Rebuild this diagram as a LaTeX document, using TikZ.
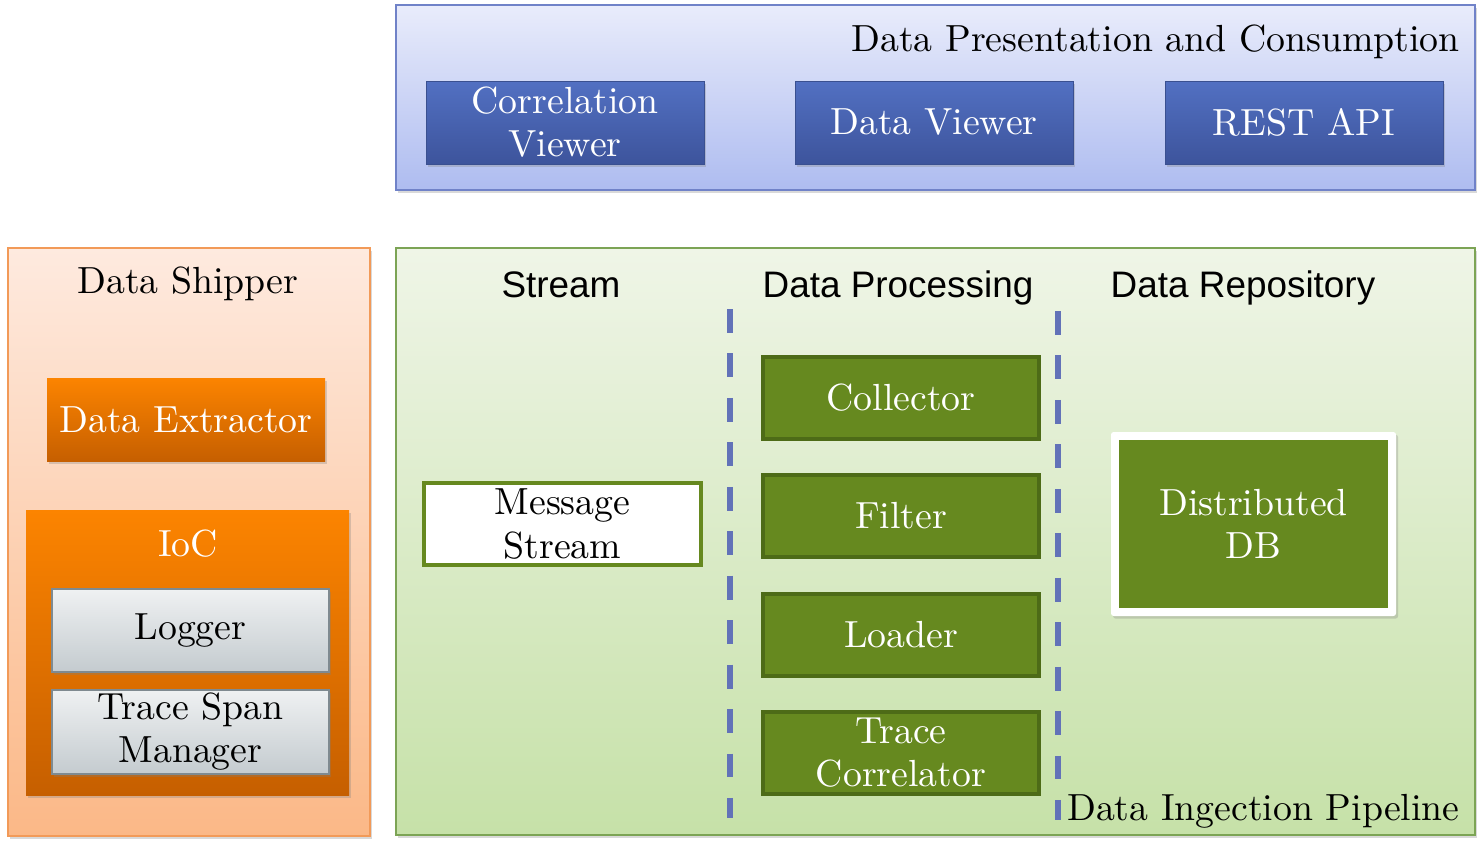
\documentclass[tikz,border=0pt]{standalone}
\usepackage{fontspec}
\newfontfamily\hdrfont{Liberation Sans}
\newfontfamily\srf{lmroman10-regular.otf}
\usetikzlibrary{shadows}
\definecolor{bpTop}{HTML}{E9ECFB}
\definecolor{bpBot}{HTML}{AEBCF0}
\definecolor{bpLine}{HTML}{7082C8}
\definecolor{bbTop}{HTML}{5270C2}
\definecolor{bbBot}{HTML}{3D549C}
\definecolor{bbLine}{HTML}{3A5090}
\definecolor{opTop}{HTML}{FEEADF}
\definecolor{opBot}{HTML}{FBB887}
\definecolor{opLine}{HTML}{F29A58}
\definecolor{obTop}{HTML}{FC8400}
\definecolor{obBot}{HTML}{C65F00}
\definecolor{gbTop}{HTML}{EFF1F2}
\definecolor{gbBot}{HTML}{C4CBCF}
\definecolor{gbLine}{HTML}{7F8A90}
\definecolor{gpTop}{HTML}{EFF5E7}
\definecolor{gpBot}{HTML}{C6E1A8}
\definecolor{gpLine}{HTML}{7CA455}
\definecolor{grFill}{HTML}{66891F}
\definecolor{grLine}{HTML}{4D6B17}
\definecolor{sepBlue}{HTML}{6272B8}
% box: name, style, x1, y1, x2, y2, text (pixel coordinates)
\newcommand\bx[7]{\node[#2, minimum width={(#5-#3)*0.02cm}, minimum height={(#6-#4)*0.02cm}] (#1) at ({(#3+#5)/2},{(#4+#6)/2}) {#7};}
\begin{document}
\begin{tikzpicture}[x=0.02cm,y=-0.02cm,
  serif/.style={font=\srf\fontsize{21.5}{24.5}\selectfont, align=center},
  hdr/.style={font=\hdrfont\fontsize{21}{25}\selectfont},
  base/.style={inner sep=0pt, outer sep=0pt, serif},
  shad/.style={drop shadow={opacity=0.3, shadow xshift=1.2pt, shadow yshift=-1.5pt}},
  bluepanel/.style={base, top color=bpTop, bottom color=bpBot, draw=bpLine, line width=1pt, shad},
  bluebox/.style={base, top color=bbTop, bottom color=bbBot, draw=bbLine, line width=0.4pt, text=white, shad},
  orangepanel/.style={base, top color=opTop, bottom color=opBot, draw=opLine, line width=1pt, shad},
  orangebox/.style={base, top color=obTop, bottom color=obBot, draw=none, text=white, shad},
  graybox/.style={base, top color=gbTop, bottom color=gbBot, draw=gbLine, line width=1pt, text=black, shad},
  greenpanel/.style={base, top color=gpTop, bottom color=gpBot, draw=gpLine, line width=1pt, shad},
  greenbox/.style={base, fill=grFill, draw=grLine, line width=2.2pt, text=white},
  whitebox/.style={base, fill=white, draw=grFill, line width=2pt, text=black},
  dbouter/.style={base, fill=white, draw=none, rounded corners=1.5pt, shad},
  dbinner/.style={base, fill=grFill, text=white},
  sepline/.style={draw=sepBlue, line width=3.3pt, dash pattern=on 13.6pt off 11.7pt},
  title/.style={inner sep=0pt, serif}
]
\useasboundingbox (0,0) rectangle (1483,846);

% Presentation panel
\bx{pres}{bluepanel}{396}{5}{1475}{190}{}
\node[title, anchor=base east] (presT) at (1460,51) {Data Presentation and Consumption};
\bx{corr}{bluebox}{426}{81}{704}{164}{Correlation\\Viewer}
\bx{viewer}{bluebox}{795}{81}{1073}{164}{Data Viewer}
\bx{rest}{bluebox}{1165}{81}{1443}{164}{REST API}

% Data Shipper panel
\bx{ship}{orangepanel}{8}{248}{370}{836}{}
\node[title, anchor=base] (shipT) at (188,293) {Data Shipper};
\bx{extr}{orangebox}{47}{378}{325}{461}{Data Extractor}
\bx{ioc}{orangebox}{26}{510}{349}{795}{}
\node[title, anchor=base, text=white] (iocT) at (188,556) {IoC};
\bx{logger}{graybox}{52}{589}{329}{672}{Logger}
\bx{tsm}{graybox}{52}{690}{329}{774}{Trace Span\\Manager}

% Ingestion pipeline panel
\bx{pipe}{greenpanel}{396}{248}{1475}{835}{}
\node[hdr, anchor=base, inner sep=0pt] (hStream) at (561,297) {Stream};
\node[hdr, anchor=base, inner sep=0pt] (hProc) at (898,297) {Data Processing};
\node[hdr, anchor=base, inner sep=0pt] (hRepo) at (1243,297) {Data Repository};

\coordinate (s1t) at (730,309);
\coordinate (s1b) at (730,818);
\coordinate (s2t) at (1058,311);
\coordinate (s2b) at (1058,820);
\draw[sepline] (s1t) -- (s1b);
\draw[sepline] (s2t) -- (s2b);

\bx{msg}{whitebox}{424}{483}{701}{565}{Message\\Stream}
\bx{coll}{greenbox}{763}{357}{1039}{439}{Collector}
\bx{filt}{greenbox}{763}{475}{1039}{557}{Filter}
\bx{load}{greenbox}{763}{594}{1039}{676}{Loader}
\bx{tcor}{greenbox}{763}{712}{1039}{794}{Trace\\Correlator}

\bx{dbo}{dbouter}{1111}{432}{1396}{616}{}
\bx{db}{dbinner}{1119}{440}{1388}{608}{Distributed\\DB}

\node[title, anchor=base east] (pipeT) at (1460,820) {Data Ingection Pipeline};
\end{tikzpicture}
\end{document}
